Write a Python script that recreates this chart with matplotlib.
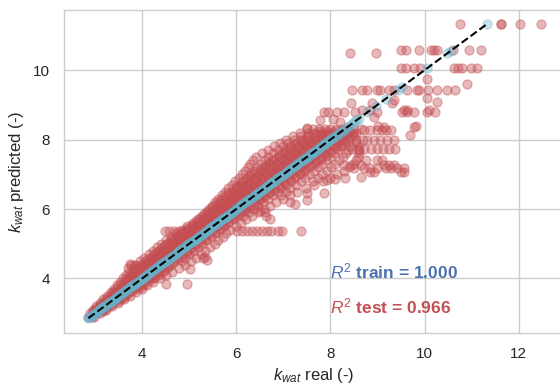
import matplotlib
matplotlib.use("Agg")
import matplotlib.pyplot as plt

# ---------------- data ----------------
# Test set: predicted value levels and the real values observed at each level
test_pred_levels = [2.90, 3.00, 3.10, 3.20, 3.30, 3.40, 3.50, 3.60, 3.70, 3.80,
                    3.90, 4.00, 4.10, 4.20, 4.30, 4.40, 4.50, 4.60, 4.70, 4.80,
                    4.90, 5.00, 5.10, 5.20, 5.30, 5.40, 5.50, 5.60, 5.70, 5.80,
                    5.90, 6.00, 6.10, 6.20, 6.30, 6.40, 6.50, 6.60, 6.70, 6.80,
                    6.90, 7.00, 7.10, 7.20, 7.30, 7.40, 7.50, 7.60, 7.70, 7.80,
                    7.90, 8.00, 8.10, 8.20, 8.30]
test_real_rows = [
    [2.85, 2.93, 2.97],
    [2.89, 2.96, 3.04, 3.11],
    [2.95, 3.03, 3.10, 3.17, 3.24],
    [3.02, 3.11, 3.19, 3.27, 3.37],
    [3.10, 3.19, 3.28, 3.36, 3.49],
    [3.17, 3.27, 3.36, 3.45, 3.53, 3.62],
    [3.25, 3.36, 3.45, 3.54, 3.63, 3.74],
    [3.33, 3.44, 3.53, 3.62, 3.71, 3.87],
    [3.41, 3.52, 3.61, 3.70, 3.79, 3.88, 3.99],
    [3.47, 3.59, 3.69, 3.78, 3.87, 3.97, 4.11],
    [3.54, 3.66, 3.77, 3.86, 3.95, 4.05, 4.24],
    [3.60, 3.72, 3.84, 3.94, 4.03, 4.14, 4.25, 4.37],
    [3.66, 3.79, 3.91, 4.02, 4.12, 4.23, 4.36, 4.51],
    [3.72, 3.85, 3.97, 4.09, 4.20, 4.31, 4.45, 4.64],
    [3.71, 3.80, 3.92, 4.04, 4.16, 4.28, 4.39, 4.53, 4.79],
    [3.77, 3.88, 4.00, 4.12, 4.24, 4.36, 4.47, 4.60, 4.91],
    [3.95, 4.08, 4.20, 4.32, 4.44, 4.55, 4.68, 4.85, 5.04],
    [4.05, 4.17, 4.29, 4.41, 4.52, 4.64, 4.77, 4.92, 5.14],
    [4.15, 4.26, 4.38, 4.50, 4.61, 4.73, 4.86, 5.00, 5.24],
    [4.24, 4.35, 4.47, 4.58, 4.70, 4.82, 4.95, 5.10, 5.34],
    [4.32, 4.44, 4.56, 4.67, 4.79, 4.91, 5.04, 5.19, 5.44],
    [4.41, 4.53, 4.65, 4.76, 4.88, 5.00, 5.12, 5.27, 5.54],
    [4.50, 4.62, 4.74, 4.86, 4.97, 5.09, 5.21, 5.36, 5.61],
    [4.62, 4.73, 4.84, 4.95, 5.06, 5.18, 5.31, 5.46, 5.71],
    [4.72, 4.83, 4.94, 5.05, 5.16, 5.28, 5.40, 5.56, 5.79],
    [4.85, 4.95, 5.05, 5.15, 5.26, 5.38, 5.50, 5.65, 5.87],
    [4.95, 5.06, 5.16, 5.26, 5.36, 5.47, 5.59, 5.73, 5.99],
    [5.08, 5.17, 5.27, 5.37, 5.47, 5.57, 5.69, 5.83, 6.09],
    [5.18, 5.27, 5.37, 5.47, 5.57, 5.67, 5.78, 5.92, 6.21],
    [5.27, 5.37, 5.47, 5.57, 5.67, 5.77, 5.88, 6.01, 6.15, 6.34],
    [5.35, 5.46, 5.56, 5.66, 5.76, 5.87, 5.98, 6.11, 6.26, 6.47],
    [5.42, 5.54, 5.65, 5.76, 5.86, 5.97, 6.08, 6.21, 6.37, 6.59],
    [5.48, 5.61, 5.73, 5.85, 5.96, 6.07, 6.18, 6.31, 6.47, 6.71],
    [5.55, 5.68, 5.81, 5.93, 6.05, 6.16, 6.28, 6.41, 6.57, 6.84],
    [5.62, 5.76, 5.89, 6.02, 6.14, 6.26, 6.38, 6.51, 6.67, 6.99],
    [5.70, 5.84, 5.97, 6.10, 6.23, 6.35, 6.48, 6.61, 6.78, 6.95, 7.14],
    [5.76, 5.92, 6.05, 6.19, 6.32, 6.45, 6.58, 6.71, 6.87, 7.06, 7.29],
    [5.83, 5.99, 6.13, 6.27, 6.41, 6.54, 6.67, 6.81, 6.96, 7.15, 7.49],
    [5.90, 6.07, 6.22, 6.36, 6.50, 6.63, 6.77, 6.91, 7.06, 7.26, 7.64],
    [5.97, 6.14, 6.30, 6.45, 6.59, 6.73, 6.86, 7.00, 7.16, 7.37, 7.62, 7.85],
    [6.05, 6.22, 6.38, 6.53, 6.68, 6.82, 6.95, 7.09, 7.25, 7.46, 7.74, 7.99],
    [6.12, 6.30, 6.46, 6.62, 6.77, 6.91, 7.05, 7.19, 7.35, 7.55, 7.83, 8.14],
    [6.18, 6.37, 6.54, 6.70, 6.85, 6.99, 7.13, 7.28, 7.44, 7.64, 7.92, 8.29],
    [6.24, 6.45, 6.62, 6.78, 6.94, 7.08, 7.22, 7.37, 7.53, 7.73, 8.01, 8.39],
    [6.30, 6.52, 6.70, 6.87, 7.03, 7.17, 7.31, 7.46, 7.62, 7.82, 8.10, 8.49],
    [6.36, 6.60, 6.79, 6.96, 7.12, 7.26, 7.40, 7.55, 7.71, 7.91, 8.19, 8.54],
    [6.42, 6.68, 6.88, 7.05, 7.21, 7.35, 7.49, 7.63, 7.79, 7.99, 8.27, 8.58],
    [6.55, 6.78, 6.97, 7.14, 7.30, 7.44, 7.58, 7.72, 7.88, 8.07, 8.33, 8.60],
    [6.68, 6.88, 7.06, 7.23, 7.39, 7.53, 7.67, 7.81, 7.97, 8.15, 8.38, 8.60],
    [6.80, 6.99, 7.16, 7.32, 7.48, 7.62, 7.76, 7.90, 8.05, 8.22, 8.42, 8.60],
    [6.92, 7.10, 7.27, 7.42, 7.57, 7.71, 7.85, 7.99, 8.14, 8.31, 8.55],
    [7.05, 7.23, 7.39, 7.54, 7.68, 7.81, 7.94, 8.08, 8.23, 8.40, 8.55],
    [7.20, 7.38, 7.53, 7.67, 7.80, 7.93, 8.06, 8.19, 8.34, 8.50],
    [7.35, 7.52, 7.67, 7.81, 7.94, 8.07, 8.19, 8.32, 8.45, 8.55],
    [7.50, 7.62, 7.75, 7.88, 8.00, 8.12, 8.24, 8.36, 8.50, 8.64],
]

# Test set: the dense core next to the diagonal (levels between the rows above)
test_core_levels = [3.05, 3.15, 3.25, 3.35, 3.45, 3.55, 3.65, 3.75, 3.85, 3.95,
                    4.05, 4.15, 4.25, 4.35, 4.45, 4.55, 4.65, 4.75, 4.85, 4.95,
                    5.05, 5.15, 5.25, 5.35, 5.45, 5.55, 5.65, 5.75, 5.85, 5.95,
                    6.05, 6.15, 6.25, 6.35, 6.45, 6.55, 6.65, 6.75, 6.85, 6.95,
                    7.05, 7.15, 7.25, 7.35, 7.45, 7.55, 7.65, 7.75, 7.85, 7.95,
                    8.05, 8.15, 8.25]
test_core_rows = [
    [2.95, 3.02, 3.09, 3.16],
    [3.03, 3.10, 3.17, 3.24],
    [3.10, 3.18, 3.26, 3.34],
    [3.18, 3.26, 3.34, 3.42, 3.50],
    [3.25, 3.33, 3.42, 3.51, 3.59],
    [3.33, 3.42, 3.51, 3.60, 3.69],
    [3.41, 3.50, 3.60, 3.69, 3.79],
    [3.48, 3.58, 3.68, 3.78, 3.88, 3.98],
    [3.56, 3.66, 3.76, 3.86, 3.96, 4.07],
    [3.63, 3.74, 3.84, 3.95, 4.05, 4.16],
    [3.71, 3.82, 3.93, 4.04, 4.15, 4.26],
    [3.79, 3.90, 4.01, 4.12, 4.24, 4.36],
    [3.87, 3.98, 4.10, 4.21, 4.33, 4.46],
    [3.96, 4.07, 4.19, 4.31, 4.43, 4.56],
    [4.04, 4.16, 4.28, 4.40, 4.52, 4.65],
    [4.13, 4.25, 4.37, 4.49, 4.62, 4.75],
    [4.22, 4.34, 4.46, 4.58, 4.71, 4.85],
    [4.31, 4.43, 4.55, 4.68, 4.81, 4.95],
    [4.40, 4.52, 4.64, 4.77, 4.90, 5.05],
    [4.49, 4.61, 4.74, 4.87, 5.00, 5.15],
    [4.58, 4.70, 4.83, 4.96, 5.10, 5.25],
    [4.67, 4.80, 4.93, 5.06, 5.20, 5.35],
    [4.77, 4.90, 5.03, 5.16, 5.30, 5.45],
    [4.87, 5.00, 5.13, 5.26, 5.40, 5.55],
    [4.96, 5.09, 5.22, 5.36, 5.50, 5.65],
    [5.05, 5.19, 5.32, 5.46, 5.60, 5.75],
    [5.14, 5.28, 5.42, 5.56, 5.70, 5.85],
    [5.23, 5.37, 5.51, 5.65, 5.80, 5.96],
    [5.31, 5.46, 5.61, 5.75, 5.90, 6.06],
    [5.40, 5.55, 5.70, 5.85, 6.00, 6.17],
    [5.48, 5.64, 5.80, 5.95, 6.10, 6.27],
    [5.57, 5.73, 5.89, 6.05, 6.20, 6.38],
    [5.65, 5.82, 5.99, 6.15, 6.30, 6.48],
    [5.74, 5.91, 6.08, 6.25, 6.41, 6.59],
    [5.83, 6.00, 6.18, 6.35, 6.51, 6.70],
    [5.92, 6.10, 6.28, 6.45, 6.62, 6.81],
    [6.01, 6.19, 6.37, 6.55, 6.72, 6.92],
    [6.11, 6.29, 6.47, 6.65, 6.83, 7.03],
    [6.20, 6.39, 6.57, 6.75, 6.93, 7.14],
    [6.30, 6.49, 6.67, 6.85, 7.04, 7.25],
    [6.40, 6.59, 6.77, 6.95, 7.14, 7.36],
    [6.50, 6.69, 6.87, 7.05, 7.25, 7.47],
    [6.60, 6.79, 6.97, 7.16, 7.35, 7.58],
    [6.70, 6.89, 7.08, 7.26, 7.46, 7.69],
    [6.80, 6.99, 7.18, 7.37, 7.57, 7.80],
    [6.91, 7.10, 7.29, 7.48, 7.68, 7.91],
    [7.02, 7.21, 7.40, 7.59, 7.79, 8.02],
    [7.13, 7.32, 7.51, 7.70, 7.90, 8.12],
    [7.25, 7.44, 7.62, 7.81, 8.00, 8.22],
    [7.37, 7.55, 7.73, 7.92, 8.11, 8.31],
    [7.50, 7.67, 7.85, 8.03, 8.21, 8.40],
    [7.63, 7.80, 7.97, 8.14, 8.31, 8.48],
    [7.77, 7.93, 8.09, 8.25, 8.41],
]

# Test set: sparse streaks and outliers (real, predicted)
test_extra_real = [
    3.75, 3.85,
    4.49, 4.58, 4.68, 4.79, 4.90, 6.02, 6.12, 6.22, 6.33, 6.44, 6.55, 6.66, 6.73, 6.88, 6.97, 7.38,
    4.51, 4.95, 5.02, 5.30, 5.34, 5.38,
    6.50, 6.60, 6.64, 6.72,
    7.15, 7.25, 7.50, 7.50, 7.86, 7.93, 8.10, 8.30, 8.64,
    8.28, 8.43, 8.64, 8.85, 8.92, 9.13, 9.24, 9.35, 9.49, 9.56,
    8.50, 8.71, 8.85, 8.99, 9.17, 9.28, 9.42, 9.56,
    8.75, 8.99, 9.10,
    8.45, 8.58, 8.72, 8.86, 8.99, 9.12, 9.25, 9.38,
    8.70, 8.78, 8.92, 9.06, 9.20, 9.35,
    8.72, 8.85, 8.99, 9.10, 9.17, 9.28,
    9.13, 9.00, 9.77, 9.82, 9.70, 7.50,
    7.78, 8.05, 8.20,
    7.86, 7.95, 8.14, 8.28, 8.53, 8.99, 9.52, 9.63, 9.77, 10.06, 10.23,
    8.92, 8.67, 8.85, 9.56, 9.63, 10.09,
    8.43, 8.89, 9.31, 10.27, 10.06, 9.35,
    8.46, 8.67, 8.78, 8.98, 9.06, 9.24, 9.35, 9.63, 9.83, 9.88, 10.08, 10.27, 10.48, 10.64,
    10.91, 10.06,
    9.49, 9.60, 9.77, 9.91, 10.62, 10.71, 10.80, 10.98, 11.12,
    8.41, 8.96,
    9.49, 9.60, 9.89, 10.13, 10.19, 10.27, 10.61, 10.94, 11.19,
    10.75, 11.63, 11.63, 12.03, 12.48,
]
test_extra_pred = [
    4.42, 4.40,
    5.37, 5.37, 5.37, 5.37, 5.37, 5.37, 5.37, 5.37, 5.37, 5.37, 5.37, 5.37, 5.37, 5.37, 5.37, 5.37,
    3.85, 3.83, 4.26, 4.58, 4.62, 4.53,
    5.95, 5.90, 5.80, 5.70,
    6.20, 6.15, 6.45, 6.26, 6.47, 6.83, 6.85, 6.90, 6.93,
    7.27, 7.27, 7.27, 7.07, 7.07, 7.27, 7.27, 7.27, 7.07, 7.07,
    7.17, 7.17, 7.17, 7.17, 7.17, 7.17, 7.17, 7.17,
    7.41, 7.41, 7.41,
    7.72, 7.72, 7.72, 7.72, 7.72, 7.72, 7.72, 7.72,
    7.99, 7.99, 7.99, 7.99, 7.99, 7.99,
    8.27, 8.27, 8.27, 8.27, 8.27, 8.27,
    8.37, 8.40, 8.35, 8.38, 8.13, 8.32,
    8.55, 8.60, 8.50,
    8.80, 8.80, 8.80, 8.80, 8.80, 8.80, 8.80, 8.80, 8.80, 8.80, 8.80,
    8.66, 8.85, 8.85, 8.85, 8.85, 8.85,
    9.04, 9.05, 9.04, 9.09, 9.21, 9.14,
    9.44, 9.44, 9.44, 9.44, 9.44, 9.44, 9.44, 9.44, 9.44, 9.44, 9.44, 9.44, 9.44, 9.44,
    9.60, 9.74,
    10.07, 10.07, 10.07, 10.07, 10.07, 10.07, 10.07, 10.07, 10.07,
    10.48, 10.48,
    10.58, 10.58, 10.58, 10.58, 10.58, 10.58, 10.58, 10.58, 10.58,
    11.32, 11.32, 11.32, 11.32, 11.32,
]

# Training set: real values (predictions equal the real values, R^2 = 1.000)
train_real = [2.86, 2.90, 2.95, 3.01, 3.06, 3.11, 3.17, 3.22, 3.28, 3.33,
              3.39, 3.44, 3.49, 3.55, 3.61, 3.66, 3.72, 3.77, 3.82, 3.88,
              3.94, 3.99, 4.05, 4.10, 4.15, 4.21, 4.27, 4.32, 4.38, 4.43,
              4.48, 4.54, 4.60, 4.65, 4.71, 4.76, 4.81, 4.87, 4.93, 4.98,
              5.04, 5.09, 5.14, 5.20, 5.26, 5.31, 5.37, 5.42, 5.47, 5.53,
              5.59, 5.64, 5.70, 5.75, 5.80, 5.86, 5.92, 5.97, 6.03, 6.08,
              6.13, 6.19, 6.25, 6.30, 6.36, 6.41, 6.46, 6.52, 6.58, 6.63,
              6.69, 6.74, 6.79, 6.85, 6.91, 6.96, 7.02, 7.07, 7.12, 7.18,
              7.24, 7.29, 7.35, 7.40, 7.45, 7.51, 7.57, 7.62, 7.68, 7.73,
              7.78, 7.84, 7.90, 7.95, 8.01, 8.07, 8.14, 8.22, 8.31, 8.40,
              8.50, 8.60, 8.78, 8.97, 9.17, 9.43, 9.52, 10.06, 10.48, 10.56,
              11.32,
              2.88, 2.93, 2.98, 3.04, 3.09, 3.14, 3.20, 3.25, 3.31, 3.36,
              3.42, 3.47, 3.52, 3.58, 3.64, 3.69, 3.75, 3.80, 3.85, 3.91,
              3.97, 4.02, 4.08, 4.13, 4.18, 4.24, 4.30, 4.35, 4.41, 4.46,
              4.51, 4.57, 4.63, 4.68, 4.74, 4.79, 4.84, 4.90, 4.96, 5.01,
              5.07, 5.12, 5.17, 5.23, 5.29, 5.34, 5.40, 5.45, 5.50, 5.56,
              5.62, 5.67, 5.73, 5.78, 5.83, 5.89, 5.95, 6.00, 6.06, 6.11,
              6.16, 6.22, 6.28, 6.33, 6.39, 6.44, 6.49, 6.55, 6.61, 6.66,
              6.72, 6.77, 6.82, 6.88, 6.94, 6.99, 7.05, 7.10, 7.15, 7.21,
              7.27, 7.32, 7.38, 7.43, 7.48, 7.54, 7.60, 7.65, 7.71, 7.76,
              7.81, 7.87, 7.93, 7.98, 8.04, 8.10, 8.18, 8.26, 8.35, 8.45,
              8.55]
train_pred = list(train_real)

r2_train = "1.000"
r2_test = "0.966"

# --------------- assemble -----------------
test_real = ([x for row in test_real_rows for x in row]
             + [x for row in test_core_rows for x in row]
             + test_extra_real)
test_pred = ([y for y, row in zip(test_pred_levels, test_real_rows) for _ in row]
             + [y for y, row in zip(test_core_levels, test_core_rows) for _ in row]
             + test_extra_pred)

c_test = "#c44e52"
c_train = "#64b5cd"

plt.rcParams.update({
    "font.family": ["Liberation Sans", "DejaVu Sans"],
    "mathtext.fontset": "custom",
    "mathtext.rm": "Liberation Sans",
    "mathtext.it": "Liberation Sans:italic",
    "mathtext.bf": "Liberation Sans:bold",
    "axes.edgecolor": "#cccccc",
    "axes.linewidth": 1.0,
    "grid.color": "#cccccc",
    "grid.linewidth": 1.0,
    "xtick.color": "#262626",
    "ytick.color": "#262626",
    "text.color": "#262626",
    "axes.labelcolor": "#262626",
})

fig = plt.figure(figsize=(5.6, 3.9), dpi=100)
ax = fig.add_axes([64 / 560, 57 / 390, 499 / 560, 323 / 390])
ax.set_axisbelow(True)
ax.grid(True)

ax.scatter(test_real, test_pred, s=42, color=c_test, alpha=0.4, zorder=2)
ax.scatter(train_real, train_pred, s=42, color=c_train, alpha=0.35, zorder=3)
lo, hi = min(train_real), max(train_real)
ax.plot([lo, hi], [lo, hi], "k--", lw=1.5, zorder=4)

ax.text(8.0, 4.0, r"$R^2$ train = " + r2_train, color="#4c72b0",
        fontsize=12.5, fontweight="bold", zorder=5)
ax.text(8.0, 3.0, r"$R^2$ test = " + r2_test, color=c_test,
        fontsize=12.5, fontweight="bold", zorder=5)

ax.set_xlim(2.34, 12.94)
ax.set_ylim(2.43, 11.73)
ax.set_xticks([4, 6, 8, 10, 12])
ax.set_yticks([4, 6, 8, 10])
ax.tick_params(length=0, pad=10, labelsize=11)
ax.set_xlabel(r"$k_{wat}$ real (-)", fontsize=12, labelpad=4)
ax.set_ylabel(r"$k_{wat}$ predicted (-)", fontsize=12, labelpad=5)
ax.spines["right"].set_visible(False)

fig.savefig("out.png", dpi=100)
